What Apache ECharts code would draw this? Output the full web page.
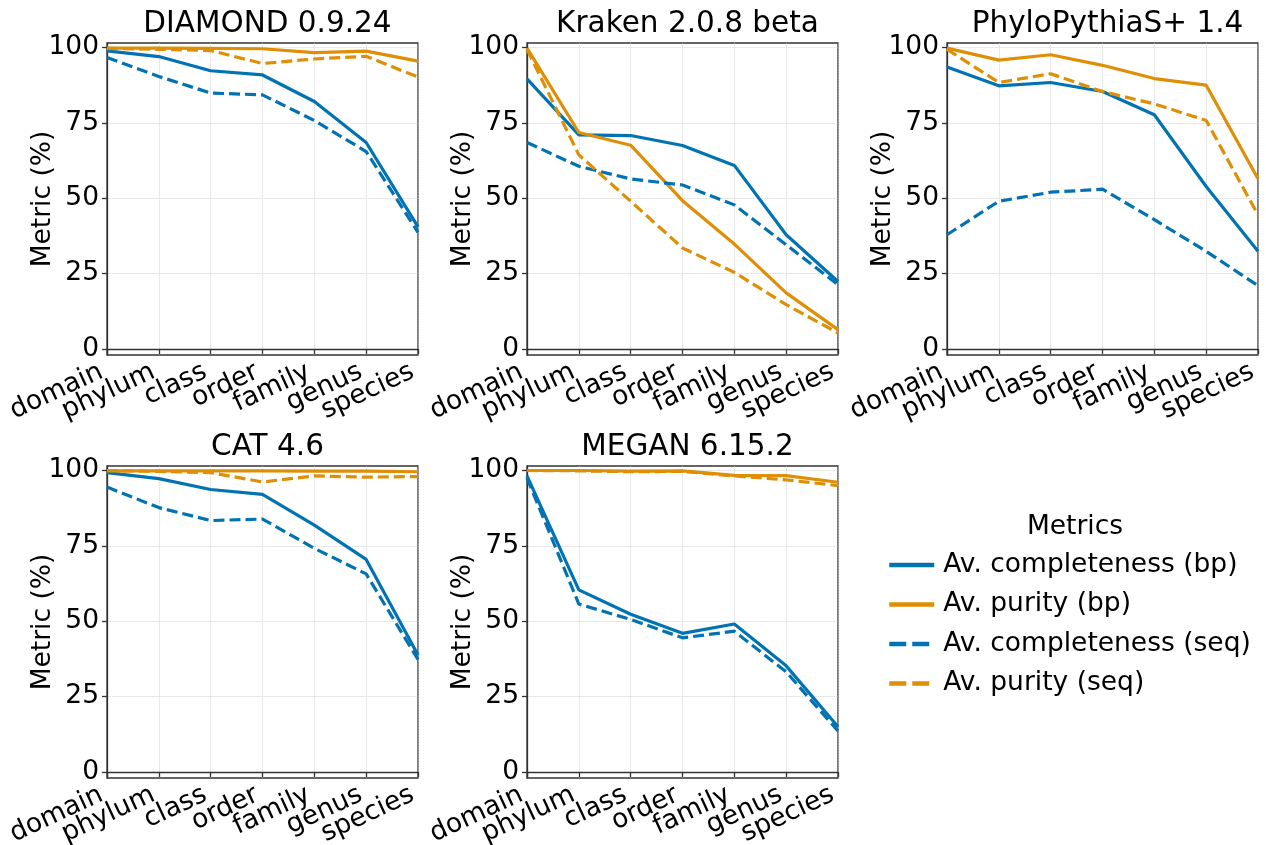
<!DOCTYPE html>
<html>
<head>
<meta charset="utf-8">
<script src="https://cdn.jsdelivr.net/npm/echarts@6/dist/echarts.min.js"></script>
<style>
  html, body { margin: 0; padding: 0; background: #fff; }
  #chart { width: 1266px; height: 845px; }
</style>
</head>
<body>
<div id="chart"></div>
<script>
  const ranks = ['domain', 'phylum', 'class', 'order', 'family', 'genus', 'species'];
  const tools = ['DIAMOND 0.9.24', 'Kraken 2.0.8 beta', 'PhyloPythiaS+ 1.4', 'CAT 4.6', 'MEGAN 6.15.2'];
  const metricNames = ['Av. completeness (bp)', 'Av. purity (bp)', 'Av. completeness (seq)', 'Av. purity (seq)'];
  const yTicks = [0, 25, 50, 75, 100];

  // DIAMOND 0.9.24
  const diamondComplBp = [98.9, 97.0, 92.3, 90.9, 82.1, 68.5, 40.5];
  const diamondPurBp = [99.8, 99.8, 99.7, 99.6, 98.3, 98.8, 95.5];
  const diamondComplSeq = [96.7, 90.4, 84.9, 84.3, 75.8, 65.5, 38.7];
  const diamondPurSeq = [99.7, 99.4, 99.0, 94.7, 96.2, 97.1, 90.2];

  // Kraken 2.0.8 beta
  const krakenComplBp = [89.6, 71.0, 70.8, 67.5, 60.9, 37.9, 22.4];
  const krakenPurBp = [99.8, 71.8, 67.6, 49.2, 34.8, 18.6, 6.4];
  const krakenComplSeq = [68.5, 60.6, 56.4, 54.4, 47.8, 34.6, 21.3];
  const krakenPurSeq = [99.4, 64.4, 49.0, 33.5, 25.4, 14.7, 5.3];

  // PhyloPythiaS+ 1.4
  const ppsComplBp = [93.5, 87.3, 88.4, 85.4, 77.7, 53.9, 32.4];
  const ppsPurBp = [99.8, 95.8, 97.6, 94.1, 89.7, 87.5, 56.5];
  const ppsComplSeq = [37.9, 49.0, 52.0, 53.0, 42.9, 32.4, 21.0];
  const ppsPurSeq = [99.4, 88.4, 91.3, 85.4, 81.3, 75.8, 44.5];

  // CAT 4.6
  const catComplBp = [99.3, 97.3, 93.7, 92.1, 81.9, 70.5, 38.8];
  const catPurBp = [99.9, 99.9, 99.9, 99.9, 99.8, 99.8, 99.6];
  const catComplSeq = [94.5, 87.7, 83.4, 83.9, 74.2, 65.7, 37.3];
  const catPurSeq = [100.0, 99.7, 99.3, 96.2, 98.2, 97.8, 98.0];

  // MEGAN 6.15.2
  const meganComplBp = [98.2, 60.4, 52.3, 46.0, 49.1, 35.2, 15.0];
  const meganPurBp = [100.0, 100.0, 99.8, 99.9, 98.4, 98.3, 96.1];
  const meganComplSeq = [97.5, 55.7, 50.6, 44.5, 46.7, 33.2, 13.6];
  const meganPurSeq = [100.0, 99.9, 99.6, 99.7, 98.2, 96.9, 95.0];

  const toolData = [
    [diamondComplBp, diamondPurBp, diamondComplSeq, diamondPurSeq],
    [krakenComplBp, krakenPurBp, krakenComplSeq, krakenPurSeq],
    [ppsComplBp, ppsPurBp, ppsComplSeq, ppsPurSeq],
    [catComplBp, catPurBp, catComplSeq, catPurSeq],
    [meganComplBp, meganPurBp, meganComplSeq, meganPurSeq]
  ];

  const blue = '#0173B2';
  const orange = '#DE8F05';
  const metricColors = [blue, orange, blue, orange];
  const metricDash = ['solid', 'solid', [11, 5], [11, 5]];
  const legendDash = ['solid', 'solid', [17, 6], [17, 6]];
  const font = 'DejaVu Sans';

  // panel boxes (px)
  const panels = [
    {left: 107, top: 43}, {left: 527, top: 43}, {left: 947, top: 43},
    {left: 107, top: 466}, {left: 527, top: 466}
  ];
  const pw = 311, ph = 312;

  const grids = [], xAxes = [], yAxes = [], titles = [], series = [];
  panels.forEach((p, i) => {
    grids.push({
      left: p.left, top: p.top, width: pw, height: ph, outerBoundsMode: 'none',
      show: true, borderColor: '#333', borderWidth: 1.3, backgroundColor: 'transparent'
    });
    titles.push({
      text: tools[i], left: p.left + pw / 2, top: p.top - 39, textAlign: 'center',
      textStyle: {fontFamily: font, fontSize: 29.5, fontWeight: 'normal', color: '#000'}
    });
    xAxes.push({
      type: 'category', gridIndex: i, data: ranks, boundaryGap: false,
      axisLine: {show: true, lineStyle: {color: '#333', width: 1.3}},
      axisTick: {show: true, interval: 0, length: 5, lineStyle: {color: '#333', width: 1.3}},
      axisLabel: {interval: 0, rotate: 25, fontFamily: font, fontSize: 26.5, color: '#000', margin: 13,
        padding: [0, 6, 0, 0]},
      splitLine: {show: true, interval: 0, lineStyle: {color: '#c8c8c8', type: 'dotted', width: 0.8}}
    });
    yAxes.push({
      type: 'value', gridIndex: i, min: -2, max: 101.5,
      name: 'Metric (%)', nameLocation: 'middle', nameGap: 50, nameRotate: 90, nameMoveOverlap: false,
      nameTextStyle: {fontFamily: font, fontSize: 26.5, color: '#000'},
      axisLine: {show: true, lineStyle: {color: '#333', width: 1.3}},
      axisTick: {show: true, length: 5, customValues: yTicks, lineStyle: {color: '#333', width: 1.3}},
      axisLabel: {customValues: yTicks, fontFamily: font, fontSize: 26.5, color: '#000', margin: 8},
      splitLine: {show: true, customValues: yTicks, lineStyle: {color: '#c8c8c8', type: 'dotted', width: 0.8}}
    });
    toolData[i].forEach((vals, m) => {
      series.push({
        name: metricNames[m], type: 'line', xAxisIndex: i, yAxisIndex: i,
        data: vals, symbol: 'none', smooth: false, animation: false,
        color: metricColors[m],
        lineStyle: {color: metricColors[m], width: 3.2, type: metricDash[m]}
      });
    });
  });

  titles.push({
    text: 'Metrics', left: 1070, top: 509, textAlign: 'center',
    textStyle: {fontFamily: font, fontSize: 26.5, fontWeight: 'normal', color: '#000'}
  });

  const chart = echarts.init(document.getElementById('chart'));
  chart.setOption({
    animation: false,
    title: titles,
    grid: grids,
    xAxis: xAxes,
    yAxis: yAxes,
    legend: {
      data: metricNames.map((n, m) => ({name: n, lineStyle: {type: legendDash[m]}})),
      orient: 'vertical', left: 882, top: 545,
      itemWidth: 45, itemHeight: 14, itemGap: 9.5, selectedMode: false,
      itemStyle: {color: 'rgba(0,0,0,0)', borderWidth: 0, opacity: 0},
      lineStyle: {width: 4.5},
      textStyle: {fontFamily: font, fontSize: 26.5, color: '#000', lineHeight: 30, padding: [0, 0, 0, 4]}
    },
    series: series
  });
</script>
</body>
</html>
